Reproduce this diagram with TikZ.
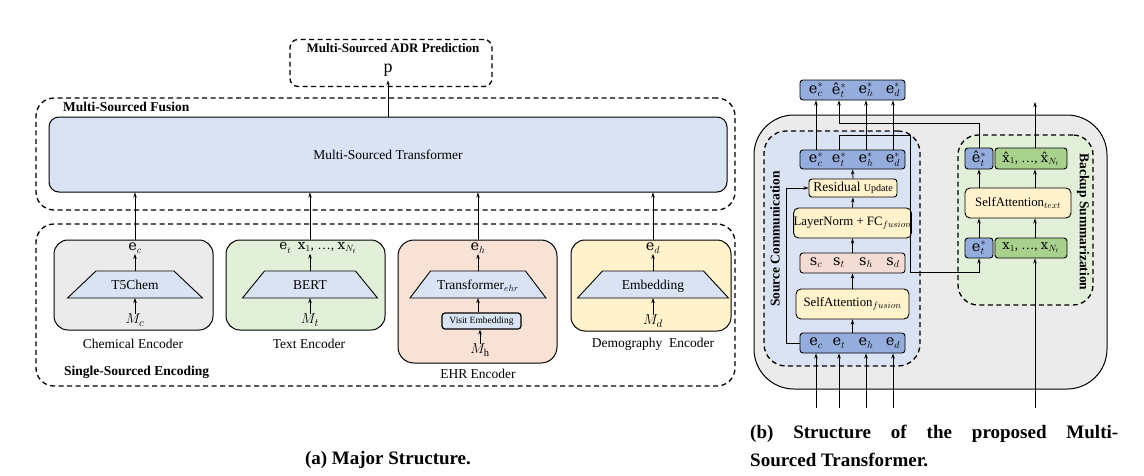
\documentclass[tikz,border=0pt]{standalone}
\usepackage{fontspec}
\setmainfont{Liberation Serif}
\newfontfamily\vecf{DejaVu Serif}
\usetikzlibrary{arrows.meta,calc}
\definecolor{lblue}{HTML}{DAE3F3}
\definecolor{lgreen}{HTML}{E2F0D9}
\definecolor{peach}{HTML}{F8E1D5}
\definecolor{lyellow}{HTML}{FFF2CC}
\definecolor{grayA}{HTML}{EBEBEB}
\definecolor{mblue}{HTML}{94ADDC}
\definecolor{mgreen}{HTML}{A9D18E}
\definecolor{speach}{HTML}{F2DCD3}
\newcommand{\ev}[2]{{\vecf e}$_{#1}^{#2}$}
\newcommand{\trapz}[6]{% name, cx, ytop, ybot, wtop, wbot
  \coordinate (#1-t) at (#2,#3);
  \coordinate (#1-b) at (#2,#4);
  \draw[line width=0.9pt, fill=lblue] ($(#2,#3)+(-#5/2,0)$) -- ($(#2,#3)+(#5/2,0)$) -- ($(#2,#4)+(#6/2,0)$) -- ($(#2,#4)+(-#6/2,0)$) -- cycle;}
\tikzset{
  every node/.style={font=\fontsize{13.5}{15}\selectfont, inner sep=0pt},
  dashbox/.style={draw, line width=1.3pt, dash pattern=on 5pt off 3.5pt, rounded corners=18pt},
  sbox/.style={draw, line width=1pt},
  rowbox/.style={draw, line width=0.9pt, rounded corners=3pt, minimum height=20},
  ttl/.style={font=\bfseries\fontsize{13.5}{15}\selectfont},
  captn/.style={font=\bfseries\fontsize{19}{21}\selectfont},
  vecn/.style={font=\fontsize{14.5}{15}\selectfont},
  smallt/.style={font=\fontsize{12.8}{14}\selectfont},
  arr/.style={-{Stealth[length=5pt,width=3.5pt]}, line width=0.8pt},
}
\begin{document}
\begin{tikzpicture}[x=1pt,y=-1pt]
\useasboundingbox (0,0) rectangle (1144,475);

% ===== (a) =====
\node[dashbox, rounded corners=8pt, minimum width=202, minimum height=47] (pred) at (391,63) {};
\node[ttl, font=\bfseries\fontsize{13}{14}\selectfont] (predt) at (393,48) {Multi-Sourced ADR Prediction};
\node[font=\fontsize{18}{19}\selectfont] (p) at (388,70) {p};

\node[dashbox, minimum width=699, minimum height=112] (fus) at (385.5,154) {};
\node[ttl, anchor=west] (fust) at (63,107) {Multi-Sourced Fusion};
\node[sbox, fill=lblue, rounded corners=10pt, minimum width=678, minimum height=75] (mst) at (388,154.5) {Multi-Sourced Transformer};
\draw[arr] (mst.north -| p) -- ($(p.south)+(0,4)$);

\node[dashbox, minimum width=699, minimum height=162] (enc) at (385.5,305) {};
\node[ttl, anchor=west] (enct) at (64,372) {Single-Sourced Encoding};

% chemical
\node[sbox, fill=grayA, rounded corners=14pt, minimum width=159, minimum height=90] (chem) at (133.5,285) {};
\trapz{chtr}{135}{271}{298}{78}{135}
\node (t5) at (135,285) {T5Chem};
\node[vecn] (ec) at (135,248) {\ev{c}{}};
\node[font=\fontsize{15}{16}\selectfont] (mc) at (135,320) {$M_c$};
\draw[arr] (chtr-t) -- (ec.south);
\draw[arr] (mc.north) -- (chtr-b);
\draw[arr] (chem.north -| ec) -- (mst.south -| ec);
\node (chl) at (133,344) {Chemical Encoder};

% text
\node[sbox, fill=lgreen, rounded corners=14pt, minimum width=159, minimum height=90] (txt) at (305.5,285) {};
\trapz{bert}{310}{271}{298}{91}{135}
\node (bt) at (310,285) {BERT};
\node[vecn, font=\fontsize{13.5}{15}\selectfont] (et) at (318,248) {\ev{t}{}\enspace{\vecf x}$_1$, …, {\vecf x}$_{N_t}$};
\node[font=\fontsize{15}{16}\selectfont] (mt) at (310,320) {$M_t$};
\draw[arr] (bert-t) -- (bert-t |- et.south);
\draw[arr] (mt.north) -- (bert-b);
\draw[arr] (txt.north -| bert-t) -- (mst.south -| bert-t);
\node (txl) at (309,344) {Text Encoder};

% EHR
\node[sbox, fill=peach, rounded corners=16pt, minimum width=159, minimum height=123] (ehr) at (477.5,301.5) {};
\trapz{ehtr}{478}{271}{298}{95}{136}
\node (ehtt) at (478,286) {Transformer$_{ehr}$};
\node[draw, line width=1.2pt, fill=lblue, rounded corners=3pt, minimum width=79, minimum height=16, font=\fontsize{9.5}{10}\selectfont] (vis) at (481.5,321) {Visit Embedding};
\node[vecn] (eh) at (478,248) {\ev{h}{}};
\node[font=\fontsize{15}{16}\selectfont] (mh) at (480,350) {$M_{\mathrm{h}}$};
\draw[arr] (ehtr-t) -- (eh.south);
\draw[arr] (vis.north -| ehtr-b) -- (ehtr-b);
\draw[arr] (mh.north) -- (mh.north |- vis.south);
\draw[arr] (ehr.north -| eh) -- (mst.south -| eh);
\node (ehl) at (478,374) {EHR Encoder};

% demography
\node[sbox, fill=lyellow, rounded corners=14pt, minimum width=160, minimum height=91] (dem) at (651,285.5) {};
\trapz{emb}{653}{271}{298}{101}{151}
\node (embt) at (653,286) {Embedding};
\node[vecn] (ed) at (653,248) {\ev{d}{}};
\node[font=\fontsize{15}{16}\selectfont] (md) at (653,321) {$M_d$};
\draw[arr] (emb-t) -- (ed.south);
\draw[arr] (md.north) -- (emb-b);
\draw[arr] (dem.north -| ed) -- (mst.south -| ed);
\node (deml) at (653,344) {Demography\ \ Encoder};

% ===== (b) =====
\node[sbox, fill=grayA, rounded corners=40pt, minimum width=353, minimum height=274] (outer) at (930.5,252) {};
\node[dashbox, fill=lblue, rounded corners=22pt, minimum width=156, minimum height=235] (scb) at (842,248.5) {};
\node[dashbox, fill=lgreen, rounded corners=20pt, minimum width=135, minimum height=170] (bsb) at (1025.5,220) {};
\node[ttl, font=\bfseries\fontsize{13.5}{14}\selectfont, rotate=90] (scl) at (775,239) {Source Communication};
\node[ttl, font=\bfseries\fontsize{13.5}{14}\selectfont, rotate=-90] (bsl) at (1083,222) {Backup Summarization};

% output row
\node[rowbox, fill=mblue, minimum width=105] (out) at (852.5,90) {};
\node[vecn] (oc) at (816,90) {\ev{c}{*}};
\node[vecn] (ot) at (839,90) {{\vecf ê}$_t^*$};
\node[vecn] (oh) at (866,90) {\ev{h}{*}};
\node[vecn] (od) at (893,90) {\ev{d}{*}};

% source communication
\node[rowbox, fill=mblue, minimum width=105, minimum height=19] (estar) at (852.5,159.5) {};
\node[vecn] (ac) at (816,159.5) {\ev{c}{*}};
\node[vecn] (at) at (839,159.5) {\ev{t}{*}};
\node[vecn] (ah) at (866,159.5) {\ev{h}{*}};
\node[vecn] (ad) at (893,159.5) {\ev{d}{*}};
\node[rowbox, fill=lyellow, minimum width=88, minimum height=18] (resid) at (853,188) {Residual {\fontsize{10}{10}\selectfont Update}};
\node[rowbox, smallt, fill=lyellow, rounded corners=5pt, minimum width=113, minimum height=30] (ln) at (852.5,223) {LayerNorm + FC$_{fusion}$};
\node[rowbox, fill=speach, minimum width=105] (srow) at (852.5,263) {};
\node[vecn] (sc) at (816,263) {{\vecf s}$_c$};
\node[vecn] (st) at (839,263) {{\vecf s}$_t$};
\node[vecn] (sh) at (866,263) {{\vecf s}$_h$};
\node[vecn] (sd) at (893,263) {{\vecf s}$_d$};
\node[rowbox, smallt, fill=lyellow, rounded corners=5pt, minimum width=113, minimum height=30] (sa) at (852.5,304) {SelfAttention$_{fusion}$};
\node[rowbox, fill=mblue, minimum width=105] (erow) at (852.5,343) {};
\node[vecn] (bc) at (816,343) {\ev{c}{}};
\node[vecn] (bt2) at (839,343) {\ev{t}{}};
\node[vecn] (bh) at (866,343) {\ev{h}{}};
\node[vecn] (bd) at (893,343) {\ev{d}{}};

\draw[arr] (erow.north) -- (sa.south);
\draw[arr] (sa.north) -- (srow.south);
\draw[arr] (srow.north) -- (ln.south);
\draw[arr] (ln.north) -- (resid.south);
\draw[arr] (resid.north) -- (estar.south);
\coordinate (fbc) at (786,188);
\draw[arr] (erow.west) -| (fbc) -- (resid.west);

\draw[arr] (ac |- estar.north) -- (ac |- out.south);
\draw[arr] (ah |- estar.north) -- (ah |- out.south);
\draw[arr] (ad |- estar.north) -- (ad |- out.south);

\coordinate (ic) at (816,408);
\coordinate (it) at (839,408);
\coordinate (ih) at (866,408);
\coordinate (id) at (893,408);
\coordinate (ix) at (1035,408);
\draw[arr] (ic) -- (ic |- erow.south);
\draw[arr] (it) -- (it |- erow.south);
\draw[arr] (ih) -- (ih |- erow.south);
\draw[arr] (id) -- (id |- erow.south);

% backup summarization
\node[rowbox, fill=mblue, minimum width=28, minimum height=21] (ehat) at (979,158.5) {};
\node[vecn] (ehatt) at (979,158.5) {{\vecf ê}$_t^*$};
\node[rowbox, fill=mgreen, minimum width=72, minimum height=21, font=\fontsize{13}{14}\selectfont] (xhat) at (1031,158.5) {{\vecf\^{x}}$_1$, …, {\vecf\^{x}}$_{N_t}$};
\node[rowbox, smallt, fill=lyellow, rounded corners=5pt, minimum width=106, minimum height=30] (sat) at (1018,203) {SelfAttention$_{text}$};
\node[rowbox, fill=mblue, minimum width=28, minimum height=20, font=\fontsize{14.5}{15}\selectfont] (etb) at (979,248) {\ev{t}{*}};
\node[rowbox, fill=mgreen, minimum width=72, minimum height=20, font=\fontsize{13}{14}\selectfont] (xb) at (1031,248) {{\vecf x}$_1$, …, {\vecf x}$_{N_t}$};
\coordinate (xcol) at (1035,230);
\coordinate (xout) at (1035,102);

\draw[arr] (etb.north) -- (etb.north |- sat.south);
\draw[arr] (xcol |- xb.north) -- (xcol |- sat.south);
\draw[arr] (ehat.south |- sat.north) -- (ehat.south);
\draw[arr] (xcol |- sat.north) -- (xcol |- xhat.south);
\draw[arr] (xcol |- xhat.north) -- (xout);
\draw[arr] (ix) -- (ix |- xb.south);

\coordinate (k1) at (910,135);
\coordinate (k2) at (910,272);
\draw[arr] (at |- estar.north) |- (k1) -- (k2) -| (etb.south);
\coordinate (k3) at (839,123);
\draw[arr] (ehat.north) |- (k3) -- (k3 |- out.south);

% captions
\node[captn] (capa) at (388,460) {(a) Major Structure.};
\node[captn, anchor=west] (capb1) at (750,434) {\makebox[368pt][s]{(b) Structure of the proposed Multi-}};
\node[captn, anchor=west] (capb2) at (750,460) {Sourced Transformer.};
\end{tikzpicture}
\end{document}
